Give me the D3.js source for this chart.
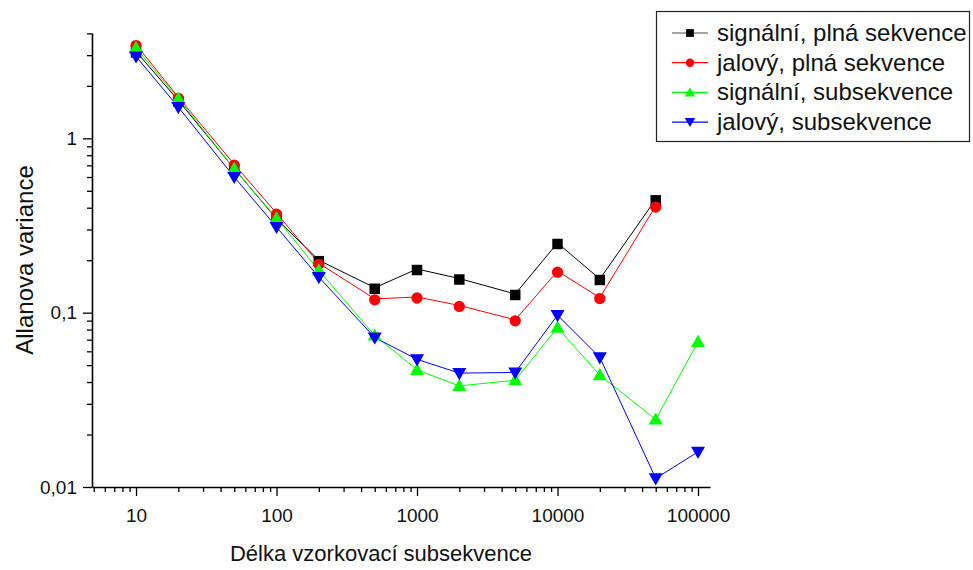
<!DOCTYPE html>
<html>
<head>
<meta charset="utf-8">
<script src="https://cdn.jsdelivr.net/npm/d3@7/dist/d3.min.js"></script>
<style>
  html, body { margin: 0; padding: 0; background: #fff; }
  svg { display: block; font-family: "Liberation Sans", Arial, sans-serif; }
</style>
</head>
<body>
<svg id="chart" width="973" height="570"></svg>
<script>
// Subsequence lengths (x) and Allan variance of each series
const lengths = [10, 20, 50, 100, 200, 500, 1000, 2000, 5000, 10000, 20000, 50000, 100000];
const signalFull = [3.15, 1.65, 0.67, 0.345, 0.2, 0.139, 0.178, 0.157, 0.128, 0.251, 0.156, 0.447];
const idleFull   = [3.45, 1.72, 0.71, 0.372, 0.192, 0.12, 0.123, 0.110, 0.091, 0.173, 0.122, 0.409];
const signalSub  = [3.3, 1.69, 0.67, 0.348, 0.175, 0.074, 0.047, 0.038, 0.041, 0.082, 0.0438, 0.0244, 0.068];
const idleSub    = [2.95, 1.51, 0.60, 0.31, 0.16, 0.072, 0.054, 0.045, 0.0454, 0.0968, 0.0554, 0.0112, 0.0159];

const seriesNames = ["signální, plná sekvence", "jalový, plná sekvence", "signální, subsekvence", "jalový, subsekvence"];
const xTickValues = [10, 100, 1000, 10000, 100000];
const yTickValues = [0.01, 0.1, 1];
const xTitle = "Délka vzorkovací subsekvence";
const yTitle = "Allanova variance";

const series = [
  { name: seriesNames[0], values: signalFull, color: "#000000", symbol: d3.symbolSquare, size: 110, rot: 0 },
  { name: seriesNames[1], values: idleFull,   color: "#ff0000", symbol: d3.symbolCircle, size: 100, rot: 0 },
  { name: seriesNames[2], values: signalSub,  color: "#00ff00", symbol: d3.symbolTriangle, size: 85, rot: 0 },
  { name: seriesNames[3], values: idleSub,    color: "#0000ff", symbol: d3.symbolTriangle, size: 85, rot: 180 }
];

const svg = d3.select("#chart");

const x = d3.scaleLog().domain([4.86, 121700]).range([92, 710]);
const y = d3.scaleLog().domain([0.01, 4.02]).range([487, 33]);

function minorTicks(domain) {
  const out = [];
  for (let e = -3; e <= 6; e++) {
    for (let m = 2; m <= 9; m++) {
      const v = m * Math.pow(10, e);
      if (v >= domain[0] * 0.999 && v <= domain[1] * 1.001) out.push(+v.toPrecision(6));
    }
  }
  return out;
}
const fmt = v => String(+v.toPrecision(6)).replace(".", ",");

// Minor ticks
svg.append("g")
  .attr("transform", "translate(0,487)")
  .call(d3.axisBottom(x).tickValues(minorTicks(x.domain())).tickSize(5).tickFormat("").tickSizeOuter(0))
  .call(g => g.select(".domain").remove())
  .selectAll("line").attr("stroke", "#000").attr("stroke-width", 1.3);
svg.append("g")
  .attr("transform", "translate(92,0)")
  .call(d3.axisLeft(y).tickValues(minorTicks(y.domain())).tickSize(5).tickFormat("").tickSizeOuter(0))
  .call(g => g.select(".domain").remove())
  .selectAll("line").attr("stroke", "#000").attr("stroke-width", 1.3);

// Major axes
const xAxis = svg.append("g")
  .attr("transform", "translate(0,487)")
  .call(d3.axisBottom(x).tickValues(xTickValues).tickFormat(fmt).tickSize(9).tickSizeOuter(0).tickPadding(13));
const yAxis = svg.append("g")
  .attr("transform", "translate(92,0)")
  .call(d3.axisLeft(y).tickValues(yTickValues).tickFormat(fmt).tickSize(9).tickSizeOuter(0).tickPadding(6));
[xAxis, yAxis].forEach(a => {
  a.select(".domain").attr("stroke", "#000").attr("stroke-width", 1.6);
  a.selectAll(".tick line").attr("stroke", "#000").attr("stroke-width", 1.3);
  a.selectAll(".tick text").attr("fill", "#111").style("font-size", "19px").style("font-family", "'Liberation Sans', Arial, sans-serif");
});

// Axis titles
svg.append("text")
  .attr("x", 381).attr("y", 561)
  .attr("text-anchor", "middle")
  .style("font-size", "22px").attr("fill", "#111")
  .text(xTitle);
svg.append("text")
  .attr("transform", "translate(33,260) rotate(-90)")
  .attr("text-anchor", "middle")
  .style("font-size", "24px").attr("fill", "#111")
  .text(yTitle);

// Series lines and markers
const line = d3.line().x(d => x(d[0])).y(d => y(d[1]));
series.forEach(s => {
  const pts = s.values.map((v, i) => [lengths[i], v]);
  svg.append("path")
    .attr("d", line(pts))
    .attr("fill", "none")
    .attr("stroke", s.color)
    .attr("stroke-width", 1);
});
series.forEach(s => {
  const pts = s.values.map((v, i) => [lengths[i], v]);
  svg.append("g").selectAll("path")
    .data(pts).join("path")
    .attr("d", d3.symbol().type(s.symbol).size(s.size))
    .attr("transform", d => `translate(${x(d[0])},${y(d[1]) + (s.rot ? -1 : 1)}) rotate(${s.rot})`)
    .attr("fill", s.color);
});

// Legend
const legend = svg.append("g");
legend.append("rect")
  .attr("x", 656.5).attr("y", 11.5).attr("width", 313).attr("height", 130)
  .attr("fill", "#fff").attr("stroke", "#222").attr("stroke-width", 1.2);
series.forEach((s, i) => {
  const cy = 33 + i * 29.7;
  const row = legend.append("g");
  row.append("line")
    .attr("x1", 672).attr("x2", 708).attr("y1", cy).attr("y2", cy)
    .attr("stroke", s.color).attr("stroke-width", 1.2)
    .attr("stroke-opacity", i === 0 ? 0.7 : 1);
  row.append("path")
    .attr("d", d3.symbol().type(s.symbol).size(s.size * 0.55))
    .attr("transform", `translate(690,${cy + (s.symbol === d3.symbolTriangle ? (s.rot ? -1 : 1) : 0)}) rotate(${s.rot})`)
    .attr("fill", s.color);
  row.append("text")
    .attr("x", 717).attr("y", cy + 8)
    .style("font-size", "24px").attr("fill", "#111")
    .text(s.name);
});
</script>
</body>
</html>
